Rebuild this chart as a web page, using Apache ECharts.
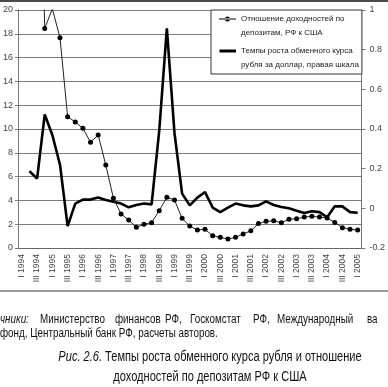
<!DOCTYPE html>
<html><head><meta charset="utf-8">
<script src="https://cdn.jsdelivr.net/npm/echarts@6/dist/echarts.min.js"></script>
<style>html,body{margin:0;padding:0;background:#fff}#c{width:388px;height:387px}</style>
</head><body><div id="c"></div>
<script>
const quarterLabels = [
  'I 1994','II 1994','III 1994','IV 1994',
  'I 1995','II 1995','III 1995','IV 1995',
  'I 1996','II 1996','III 1996','IV 1996',
  'I 1997','II 1997','III 1997','IV 1997',
  'I 1998','II 1998','III 1998','IV 1998',
  'I 1999','II 1999','III 1999','IV 1999',
  'I 2000','II 2000','III 2000','IV 2000',
  'I 2001','II 2001','III 2001','IV 2001',
  'I 2002','II 2002','III 2002','IV 2002',
  'I 2003','II 2003','III 2003','IV 2003',
  'I 2004','II 2004','III 2004','IV 2004',
  'I 2005'
];
// Отношение доходностей по депозитам, РФ к США (left scale)
const depositRatio = [
  null, null, 45, 18.45,
  20.1, 17.67, 11.03, 10.59,
  10.06, 8.88, 9.5, 6.97,
  4.18, 2.86, 2.35, 1.74,
  1.99, 2.13, 3.14, 4.26,
  4.03, 2.49, 1.85, 1.51,
  1.57, 1.03, 0.90, 0.76,
  0.90, 1.18, 1.44, 2.05,
  2.24, 2.28, 2.13, 2.41,
  2.46, 2.6, 2.66, 2.6,
  2.52, 2.15, 1.71, 1.57,
  1.51
];
// Темпы роста обменного курса рубля за доллар (right scale)
const fxGrowth = [
  null, 0.187, 0.15, 0.473,
  0.37, 0.22, -0.09, 0.024,
  0.044, 0.044, 0.055, 0.042,
  0.033, 0.024, 0.005, 0.017,
  0.024, 0.02, 0.39, 0.907,
  0.38, 0.074, 0.015, 0.054,
  0.082, 0.004, -0.019, 0.004,
  0.024, 0.015, 0.01, 0.015,
  0.035, 0.017, 0.007, 0.0,
  -0.012, -0.024, -0.015, -0.019,
  -0.045, 0.01, 0.01, -0.019,
  -0.022
];
const seriesNames = ['Отношение доходностей по депозитам, РФ к США', 'Темпы роста обменного курса рубля за доллар, правая шкала'];
const legendLines = {
  'Отношение доходностей по депозитам, РФ к США': 'Отношение доходностей по\nдепозитам, РФ к США',
  'Темпы роста обменного курса рубля за доллар, правая шкала': 'Темпы роста обменного курса\nрубля за доллар, правая шкала'
};
const leftScale = {min: 0, max: 20, interval: 2};
const rightScale = {min: -0.2, max: 1, interval: 0.2};
const sourceWords = [['чники:', 0, true], ['Министерство', 40], ['финансов', 115], ['РФ,', 165], ['Госкомстат', 190], ['РФ,', 253], ['Международный', 277], ['ва', 367]];
const sourceLine2 = 'фонд, Центральный банк РФ, расчеты авторов.';
const captionItalic = 'Рис. 2.6.';
const captionLine1 = ' Темпы роста обменного курса рубля и отношение';
const captionLine2 = 'доходностей по депозитам РФ к США';

const FONT = '"Liberation Sans", Arial, sans-serif';
const chart = echarts.init(document.getElementById('c'), null, {renderer: 'canvas'});

const graphics = [
  {type: 'rect', shape: {x: 0, y: 0, width: 388, height: 2}, style: {fill: '#4a4a4a'}, silent: true},
  {type: 'rect', shape: {x: 0, y: 290, width: 388, height: 2}, style: {fill: '#9a9a9a'}, silent: true}
];
sourceWords.forEach(w => {
  graphics.push({type: 'text', x: w[1], y: 320, scaleX: 0.82, style: {text: w[0], font: (w[2] ? 'italic ' : '') + '12px ' + FONT, fill: '#111', align: 'left', verticalAlign: 'middle'}});
});
graphics.push({type: 'text', x: 0, y: 334, scaleX: 0.82, style: {text: sourceLine2, font: '12px ' + FONT, fill: '#111', align: 'left', verticalAlign: 'middle'}});
graphics.push({type: 'text', x: 210, y: 357, scaleX: 0.79, style: {
  text: '{i|' + captionItalic + '}{n|' + captionLine1 + '}', align: 'center', verticalAlign: 'middle',
  rich: {i: {font: 'italic 14px ' + FONT, fill: '#111'}, n: {font: '14px ' + FONT, fill: '#111'}}
}});
graphics.push({type: 'text', x: 210, y: 377, scaleX: 0.79, style: {text: captionLine2, font: '14px ' + FONT, fill: '#111', align: 'center', verticalAlign: 'middle'}});

// legend icons: drawn in the upper half of a 17x28 box so the mark sits on the first text line
const TOP_DOT = 'M0,0h0.01v0.01h-0.01z M0,27.99h0.01v0.01h-0.01z ';
const option = {
  animation: false,
  backgroundColor: '#fff',
  grid: {left: 15, right: 22, top: 10, bottom: 139, containLabel: false},
  legend: {
    orient: 'vertical', left: 211, top: 10,
    backgroundColor: '#fff', borderColor: '#333', borderWidth: 1,
    padding: [2, 3, 2, 8], itemGap: 4, itemWidth: 17, itemHeight: 28,
    textStyle: {fontFamily: FONT, fontSize: 8, color: '#1a1a1a', lineHeight: 14},
    itemStyle: {borderWidth: 0},
    formatter: n => legendLines[n],
    data: [
      {name: seriesNames[0], icon: 'path://' + TOP_DOT + 'M0,6.5h17v1h-17z M6,7a2.5,2.5 0 1,0 5,0a2.5,2.5 0 1,0 -5,0z'},
      {name: seriesNames[1], icon: 'path://' + TOP_DOT + 'M0.5,5.5h16.5v3h-16.5z'}
    ]
  },
  xAxis: {
    type: 'category', data: quarterLabels, boundaryGap: true,
    axisLine: {lineStyle: {color: '#666', width: 1}},
    axisTick: {interval: 0, length: 4, lineStyle: {color: '#666'}},
    axisLabel: {interval: 1, rotate: 90, fontSize: 8.5, color: '#444', margin: 6, fontFamily: FONT}
  },
  yAxis: [
    {
      type: 'value', position: 'left', min: leftScale.min, max: leftScale.max, interval: leftScale.interval,
      axisLine: {show: true, lineStyle: {color: '#777'}},
      axisTick: {show: true, length: 3, lineStyle: {color: '#777'}},
      axisLabel: {fontSize: 9, color: '#444', margin: 5, fontFamily: FONT},
      splitLine: {lineStyle: {color: '#7c7c7c', width: 1}}
    },
    {
      type: 'value', position: 'right', min: rightScale.min, max: rightScale.max, interval: rightScale.interval,
      axisLine: {show: true, lineStyle: {color: '#777'}},
      axisTick: {show: true, length: 4, lineStyle: {color: '#777'}},
      axisLabel: {fontSize: 9, color: '#444', margin: 8, fontFamily: FONT},
      splitLine: {show: false}
    }
  ],
  series: [
    {
      name: seriesNames[0], type: 'line', yAxisIndex: 0, data: depositRatio,
      symbol: 'circle', symbolSize: 5, showSymbol: true, clip: true,
      lineStyle: {color: '#222', width: 1}, itemStyle: {color: '#000'}, z: 3
    },
    {
      name: seriesNames[1], type: 'line', yAxisIndex: 1, data: fxGrowth,
      symbol: 'none', clip: true,
      lineStyle: {color: '#000', width: 2.6}, itemStyle: {color: '#000'}, z: 2
    }
  ],
  graphic: graphics
};
chart.setOption(option);
</script>
</body></html>
